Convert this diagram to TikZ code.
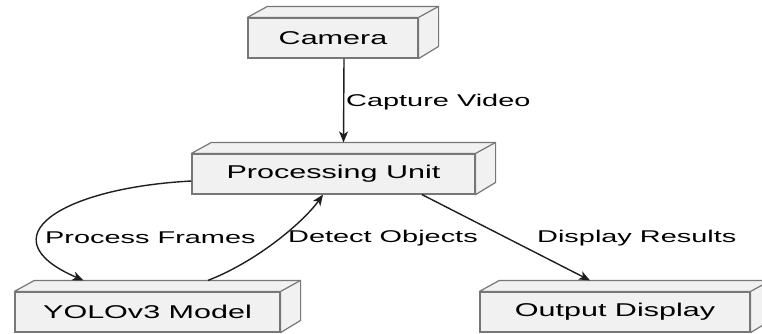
\documentclass[tikz,border=0pt]{standalone}
\usepackage{fontspec}
\newfontfamily\umlfont{Liberation Sans}[FakeStretch=1.65]
\newfontfamily\umllabelfont{Liberation Sans}[FakeStretch=1.7]
\usetikzlibrary{arrows.meta,calc}
\definecolor{unitfill}{HTML}{F1F1F1}
\definecolor{unitline}{HTML}{777777}
\definecolor{flowline}{HTML}{1E1E1E}
% depth faces of a unit box
\newcommand{\unitdepth}[1]{%
  \draw[unitside] (#1.north west) -- ++(20,-11) -- ($(#1.north east)+(20,-11)$) -- ++(0,40) -- (#1.south east) -- (#1.north east) -- cycle;
  \draw[unitside] (#1.north east) -- ++(20,-11);
}
\begin{document}
\begin{tikzpicture}[x=1pt,y=-1pt,
		unit/.style={draw=unitline, line width=1.2pt, fill=unitfill, minimum height=40pt, inner sep=0pt, font=\umlfont\fontsize{18.5}{21}\selectfont},
		unitside/.style={draw=unitline, line width=1.2pt, fill=unitfill, line join=round},
		flow/.style={draw=flowline, line width=1.4pt, -{Stealth[length=11pt,width=9pt,inset=3pt]}},
		lbl/.style={anchor=west, inner sep=0pt, font=\umllabelfont\fontsize{17}{20}\selectfont}]
		\useasboundingbox (0,0) rectangle (762,333);
		%Boxes
		\node[unit, minimum width=170pt] (cam) at (333,38) {Camera};
		\node[unit, minimum width=283pt] (pu) at (333.5,174) {Processing Unit};
		\node[unit, minimum width=265pt] (yolo) at (147.5,312) {YOLOv3 Model};
		\node[unit, minimum width=270pt] (out) at (615,312) {Output Display};
		\unitdepth{cam}
		\unitdepth{pu}
		\unitdepth{yolo}
		\unitdepth{out}
		%Arrows
		\draw[flow] ($(cam.south)+(11,0)$) -- ($(pu.north)+(10,-11)$);
		\draw[flow] ($(pu.west)+(0,7)$) .. controls (60,188) and (-15,238) .. ($(yolo.north)+(-64,-11)$);
		\draw[flow] ($(yolo.north)+(60.5,-11)$) .. controls (260,260) and (305,220) .. ($(pu.south)+(-10.5,0)$);
		\draw[flow] ($(pu.south)+(88.5,0)$) -- ($(out.north)+(-25,-11)$);
		%Labels
		\node[lbl] (lcv) at (346,102) {Capture Video};
		\node[lbl] (lpf) at (45,238) {Process Frames};
		\node[lbl] (ldo) at (288,238) {Detect Objects};
		\node[lbl] (ldr) at (537,238) {Display Results};
\end{tikzpicture}
\end{document}
